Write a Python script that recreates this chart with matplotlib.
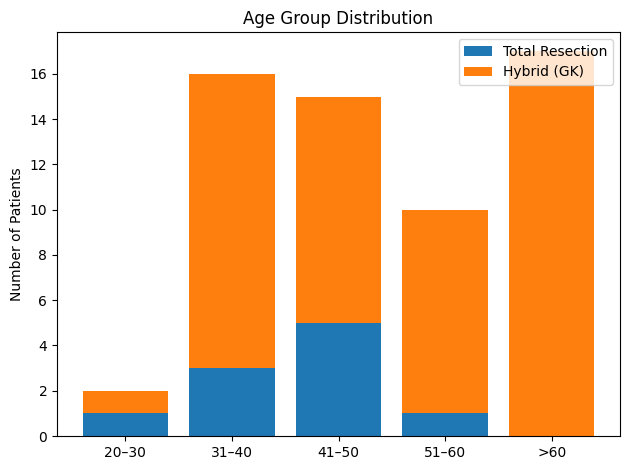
import matplotlib
matplotlib.use("Agg")
import matplotlib.pyplot as plt
import numpy as np

categories = ["20–30", "31–40", "41–50", "51–60", ">60"]
total_resection = [1, 3, 5, 1, 0]
hybrid_gk = [1, 13, 10, 9, 17]

W, H = 630, 470
fig, ax = plt.subplots(figsize=(6.3, 4.7), dpi=100)
ax.bar(categories, total_resection, label="Total Resection")
ax.bar(categories, hybrid_gk, bottom=total_resection, label="Hybrid (GK)")
ax.set_ylabel("Number of Patients")
ax.set_title("Age Group Distribution")
ax.legend(loc="upper right")
fig.subplots_adjust(left=57 / W, right=620 / W, top=1 - 32 / H, bottom=1 - 436 / H)
fig.savefig("out.png")
